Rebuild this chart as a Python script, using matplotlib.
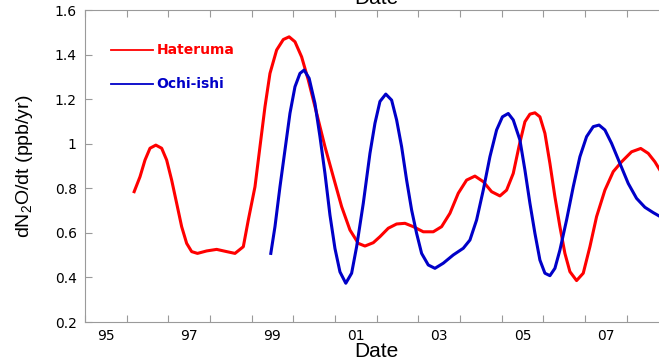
import matplotlib.pyplot as plt
from matplotlib.ticker import FixedLocator, FormatStrFormatter

plt.rcParams['mathtext.fontset'] = 'custom'
plt.rcParams['mathtext.rm'] = 'Liberation Sans'

# Hateruma growth rate (red)
hat_year = [1996.18, 1996.32, 1996.44, 1996.56, 1996.70, 1996.84, 1996.96, 1997.08,
            1997.20, 1997.32, 1997.44, 1997.56, 1997.70, 1997.92, 1998.16, 1998.40,
            1998.60, 1998.80, 1998.92, 1999.08, 1999.20, 1999.32, 1999.44, 1999.60,
            1999.76, 1999.90, 2000.04, 2000.20, 2000.36, 2000.56, 2000.76, 2000.96,
            2001.16, 2001.36, 2001.56, 2001.72, 2001.92, 2002.08, 2002.28, 2002.48,
            2002.68, 2002.88, 2003.12, 2003.36, 2003.56, 2003.76, 2003.96, 2004.16,
            2004.36, 2004.56, 2004.76, 2004.96, 2005.12, 2005.28, 2005.42, 2005.56,
            2005.68, 2005.80, 2005.92, 2006.04, 2006.16, 2006.28, 2006.40, 2006.52,
            2006.64, 2006.80, 2006.96, 2007.12, 2007.28, 2007.48, 2007.68, 2007.88,
            2008.12, 2008.34, 2008.52, 2008.68, 2008.80]
hat_rate = [0.785, 0.852, 0.927, 0.980, 0.994, 0.980, 0.927, 0.837,
            0.733, 0.628, 0.553, 0.516, 0.508, 0.519, 0.526, 0.516,
            0.508, 0.538, 0.658, 0.807, 0.987, 1.166, 1.316, 1.421,
            1.468, 1.480, 1.458, 1.390, 1.286, 1.137, 0.987, 0.852,
            0.718, 0.613, 0.553, 0.541, 0.556, 0.583, 0.621, 0.640,
            0.643, 0.628, 0.605, 0.605, 0.628, 0.688, 0.778, 0.837,
            0.855, 0.830, 0.785, 0.766, 0.792, 0.867, 0.990, 1.099,
            1.133, 1.139, 1.121, 1.047, 0.912, 0.762, 0.628, 0.508,
            0.426, 0.386, 0.419, 0.538, 0.673, 0.792, 0.875, 0.919,
            0.964, 0.979, 0.957, 0.919, 0.882]

# Ochi-ishi growth rate (blue)
och_year = [1999.46, 1999.56, 1999.68, 1999.80, 1999.92, 2000.04, 2000.16, 2000.26,
            2000.38, 2000.52, 2000.64, 2000.76, 2000.88, 2001.00, 2001.12, 2001.26,
            2001.40, 2001.52, 2001.68, 2001.84, 2001.96, 2002.08, 2002.22, 2002.36,
            2002.48, 2002.60, 2002.72, 2002.84, 2002.96, 2003.08, 2003.24, 2003.40,
            2003.60, 2003.84, 2004.08, 2004.24, 2004.40, 2004.56, 2004.72, 2004.88,
            2005.02, 2005.16, 2005.28, 2005.44, 2005.56, 2005.68, 2005.80, 2005.92,
            2006.04, 2006.16, 2006.28, 2006.40, 2006.56, 2006.72, 2006.88, 2007.04,
            2007.20, 2007.34, 2007.48, 2007.64, 2007.84, 2008.04, 2008.24, 2008.44,
            2008.64, 2008.80]
och_rate = [0.508, 0.628, 0.807, 0.972, 1.137, 1.256, 1.316, 1.331,
            1.294, 1.181, 1.032, 0.867, 0.680, 0.530, 0.425, 0.374,
            0.419, 0.538, 0.733, 0.957, 1.092, 1.190, 1.223, 1.196,
            1.107, 0.987, 0.837, 0.703, 0.598, 0.508, 0.456, 0.441,
            0.464, 0.501, 0.531, 0.568, 0.658, 0.792, 0.942, 1.062,
            1.121, 1.136, 1.107, 1.017, 0.882, 0.733, 0.598, 0.478,
            0.419, 0.408, 0.441, 0.523, 0.658, 0.807, 0.942, 1.032,
            1.077, 1.084, 1.062, 1.002, 0.912, 0.822, 0.755, 0.715,
            0.691, 0.674]

year_ticks = list(range(1995, 2010))
label_pos = [1995.5, 1997.5, 1999.5, 2001.5, 2003.5, 2005.5, 2007.5]
label_txt = ['95', '97', '99', '01', '03', '05', '07']
y_ticks = [0.2, 0.4, 0.6, 0.8, 1.0, 1.2, 1.4, 1.6]

red = '#ff0000'
blue = '#0000c8'
grey = '#9a9a9a'

fig = plt.figure(figsize=(6.59, 3.61), dpi=100)
# the axes runs past the right edge of the picture, as in the original
ax = fig.add_axes([0.129, 0.108, 0.885, 0.864])

ax.plot(hat_year, hat_rate, color=red, lw=2.2, solid_joinstyle='round')
ax.plot(och_year, och_rate, color=blue, lw=2.2, solid_joinstyle='round')

ax.set_xlim(1995, 2009)
ax.set_ylim(0.2, 1.6)

ax.xaxis.set_major_locator(FixedLocator(year_ticks))
ax.xaxis.set_minor_locator(FixedLocator(label_pos))
ax.set_xticklabels([], minor=False)
ax.set_xticklabels(label_txt, minor=True)
ax.set_yticks(y_ticks)
ax.yaxis.set_major_formatter(FormatStrFormatter('%g'))

ax.tick_params(axis='both', which='major', direction='in', length=5,
               color=grey, top=True, labelsize=10)
ax.tick_params(axis='x', which='minor', length=0, labelsize=10, pad=5)
ax.tick_params(axis='y', pad=6)
for lab in ax.get_xticklabels(minor=True) + ax.get_yticklabels():
    lab.set_family('DejaVu Sans')

for sp in ax.spines.values():
    sp.set_color(grey)

ax.set_xlabel('Date', family='Liberation Sans', fontsize=15, labelpad=-1)
ax.set_ylabel('dN$_2$O/dt (ppb/yr)', family='Liberation Sans', fontsize=14)
ax.yaxis.set_label_coords(-0.086, 0.5)

# the top axis title is mostly cut off by the frame of the picture
fig.text(0.5716, 0.988, 'Date', family='Liberation Sans', fontsize=15,
         ha='center', va='baseline')

# hand-drawn legend
ax.plot([1995.62, 1996.63], [1.42, 1.42], color=red, lw=1.3)
ax.plot([1995.62, 1996.63], [1.27, 1.27], color=blue, lw=1.3)
ax.text(1996.72, 1.42, 'Hateruma', color=red, fontsize=10, fontweight='bold',
        family='DejaVu Sans', va='center')
ax.text(1996.72, 1.27, 'Ochi-ishi', color=blue, fontsize=10, fontweight='bold',
        family='DejaVu Sans', va='center')

fig.savefig('out.png', dpi=100)
